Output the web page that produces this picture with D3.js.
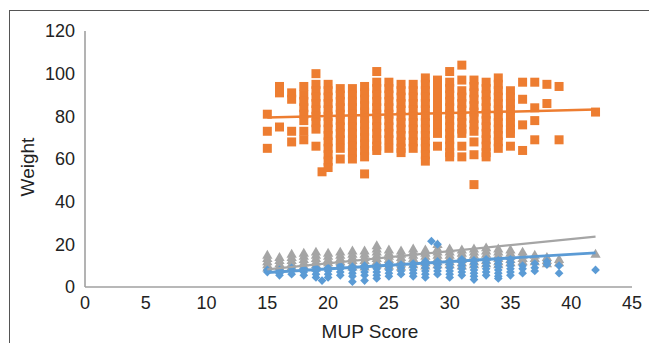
<!DOCTYPE html>
<html>
<head>
<meta charset="utf-8">
<script src="https://cdn.jsdelivr.net/npm/d3@7"></script>
<style>
  body { margin: 0; background: #fff; }
  text { font-family: "Liberation Sans", Arial, sans-serif; fill: #222; }
</style>
</head>
<body>
<svg id="chart" width="649" height="343"></svg>
<script>
// tick labels
const xTicks = [0, 5, 10, 15, 20, 25, 30, 35, 40, 45];
const yTicks = [0, 20, 40, 60, 80, 100, 120];

// orange squares: [MUP score, weights at that score]
const orangeCols = [
  [15, [81, 73, 65]],
  [16, [94, 91, 75]],
  [17, [91, 88, 73, 68]],
  [18, [94, 90, 87, 84, 81, 78, 73, 69]],
  [19, [100, 95, 92, 89, 86, 83, 80, 77, 74, 66]],
  [19.5, [54]],
  [20, [95, 92, 89, 86, 83, 80, 77, 74, 71, 68, 65, 62, 59, 56]],
  [21, [93, 90, 87, 84, 81, 78, 75, 72, 69, 65, 60]],
  [22, [93, 90, 87, 84, 81, 78, 75, 72, 69, 66, 63, 60]],
  [23, [94, 91, 88, 85, 82, 79, 76, 73, 70, 67, 64, 61, 53]],
  [24, [101, 96, 93, 90, 87, 84, 81, 78, 75, 72, 69, 66, 64]],
  [25, [96, 93, 90, 87, 84, 81, 78, 75, 72, 69, 65]],
  [26, [95, 92, 89, 86, 83, 80, 77, 74, 71, 68, 65, 63]],
  [27, [95, 92, 89, 86, 83, 80, 77, 74, 71, 68, 65]],
  [28, [98, 95, 92, 89, 86, 83, 80, 77, 74, 71, 68, 65, 62, 59]],
  [29, [97, 94, 91, 88, 85, 82, 79, 76, 72, 66]],
  [30, [101, 96, 93, 90, 87, 84, 81, 78, 75, 72, 69, 66, 63, 61]],
  [31, [104, 97, 92, 89, 86, 83, 80, 77, 74, 72, 66, 61]],
  [32, [97, 94, 91, 88, 85, 82, 79, 76, 73, 68, 62, 48]],
  [33, [96, 93, 90, 87, 84, 81, 78, 75, 72, 69, 66, 63, 61]],
  [34, [98, 95, 92, 89, 86, 83, 80, 77, 74, 71, 68, 65]],
  [35, [92, 89, 86, 83, 80, 77, 74, 72, 66]],
  [36, [96, 88, 76, 64]],
  [37, [96, 84, 78, 69]],
  [38, [95, 86]],
  [39, [94, 69]],
  [42, [82]]
];

// grey triangles
const greyCols = [
  [15, [15, 13.5, 12, 10.5, 9]],
  [16, [14, 12.5, 11, 9.5]],
  [17, [15.5, 14, 12.5, 11, 9.5]],
  [18, [16, 14.5, 13, 11.5, 10]],
  [19, [16.5, 15, 13.5, 12, 10.5, 9]],
  [20, [16, 14.5, 13, 11.5, 10]],
  [21, [16.5, 15, 13.5, 12, 10.5]],
  [22, [17, 15.5, 14, 12.5, 11, 9.5]],
  [23, [17, 15.5, 14, 12.5, 11, 9.5]],
  [24, [19.5, 18, 16.5, 15, 13.5, 12, 10.5]],
  [25, [17.5, 16, 14.5, 13, 11.5, 10]],
  [26, [17, 15.5, 14, 12.5, 11, 9.5]],
  [27, [18, 16.5, 15, 13.5, 12, 10.5]],
  [28, [17.5, 16, 14.5, 13, 11.5, 10]],
  [29, [20, 18, 16.5, 15, 13.5, 12, 10.5]],
  [30, [18, 16.5, 15, 13.5, 12, 10.5]],
  [31, [17.5, 16, 14.5, 13, 11.5, 10]],
  [32, [18, 16.5, 15, 13.5, 12, 10.5]],
  [33, [18.5, 17, 15.5, 14, 12.5, 11]],
  [34, [18, 16.5, 15, 13.5, 12, 10.5]],
  [35, [17.5, 16, 14.5, 13, 11.5]],
  [36, [16.5, 15, 13.5, 12]],
  [37, [15, 13.5, 12]],
  [38, [14, 12.5, 11]],
  [39, [13, 11.5]],
  [42, [15.5]]
];

// blue diamonds
const blueCols = [
  [15, [8, 7]],
  [16, [8, 6.5, 5.5]],
  [17, [9, 7.5, 6]],
  [18, [8.5, 7, 5.5]],
  [19, [9, 7.5, 6, 4.5]],
  [19.5, [3]],
  [20, [9, 7.5, 6, 4.5]],
  [21, [10, 8.5, 7, 5.5]],
  [22, [9.5, 8, 6.5, 5, 2.5]],
  [23, [10, 8.5, 7, 5.5, 3]],
  [24, [10, 8.5, 7, 5.5, 4]],
  [25, [11, 9.5, 8, 6.5, 5]],
  [26, [10.5, 9, 7.5, 6]],
  [27, [11, 9.5, 8, 6.5, 5]],
  [28, [12, 10.5, 9, 7.5, 6, 4.5]],
  [28.5, [21.5]],
  [29, [20, 12, 10.5, 9, 7.5, 6]],
  [30, [12, 10.5, 9, 7.5, 6, 4.5]],
  [31, [13, 11.5, 10, 8.5, 7, 5.5]],
  [32, [12.5, 11, 9.5, 8, 6.5, 5, 3.5]],
  [33, [13, 11.5, 10, 8.5, 7, 5.5]],
  [34, [12.5, 11, 9.5, 8, 6.5, 5, 4]],
  [35, [13, 11.5, 10, 8.5, 7, 5.5]],
  [36, [10, 8.5, 6.5]],
  [37, [11, 9, 7.5]],
  [38, [12, 10.5]],
  [39, [10, 6.5]],
  [42, [8]]
];

// linear trendlines: [start score, value, end score, value]
const orangeTrend = [15, 79.4, 42, 83.2];
const greyTrend = [15, 8.3, 42, 23.6];
const blueTrend = [15, 6.8, 42, 16];

const flat = cols => cols.flatMap(([s, vals]) => vals.map(v => [s, v]));

const svg = d3.select("#chart");

// chart frame
svg.append("rect")
  .attr("x", 9.5).attr("y", 10.5)
  .attr("width", 700).attr("height", 400)
  .attr("fill", "none").attr("stroke", "#555").attr("stroke-width", 1);

const x = d3.scaleLinear().domain([0, 45]).range([85, 632]);
const y = d3.scaleLinear().domain([0, 120]).range([287, 31]);

// axis lines
svg.append("line")
  .attr("x1", x(0)).attr("x2", x(0)).attr("y1", y(120)).attr("y2", y(0))
  .attr("stroke", "#a0a0a0").attr("stroke-width", 1.6);
svg.append("line")
  .attr("x1", x(0)).attr("x2", x(45)).attr("y1", y(0)).attr("y2", y(0))
  .attr("stroke", "#a0a0a0").attr("stroke-width", 1.6);

svg.append("g").selectAll("text").data(yTicks).join("text")
  .attr("x", 75).attr("y", d => y(d)).attr("dy", "0.35em")
  .attr("text-anchor", "end").attr("font-size", 18)
  .text(d => d);

svg.append("g").selectAll("text").data(xTicks).join("text")
  .attr("x", d => x(d)).attr("y", 303).attr("dy", "0.35em")
  .attr("text-anchor", "middle").attr("font-size", 18)
  .text(d => d);

svg.append("text")
  .attr("x", 370).attr("y", 331).attr("dy", "0.35em")
  .attr("text-anchor", "middle").attr("font-size", 19)
  .text("MUP Score");

svg.append("text")
  .attr("transform", `translate(27,${(y(0) + y(120)) / 2 + 8}) rotate(-90)`)
  .attr("dy", "0.35em")
  .attr("text-anchor", "middle").attr("font-size", 19)
  .text("Weight");

// markers
const orange = "#ed7d31", grey = "#a5a5a5", blue = "#5b9bd5";

svg.append("g").selectAll("path").data(flat(orangeCols)).join("path")
  .attr("d", d3.symbol(d3.symbolSquare, 81))
  .attr("transform", d => `translate(${x(d[0])},${y(d[1])})`)
  .attr("fill", orange);

svg.append("g").selectAll("path").data(flat(greyCols)).join("path")
  .attr("d", d3.symbol(d3.symbolTriangle, 46))
  .attr("transform", d => `translate(${x(d[0])},${y(d[1]) + 0.8})`)
  .attr("fill", grey);

svg.append("g").selectAll("path").data(flat(blueCols)).join("path")
  .attr("d", d3.symbol(d3.symbolSquare, 38))
  .attr("transform", d => `translate(${x(d[0])},${y(d[1])}) rotate(45)`)
  .attr("fill", blue);

// trendlines
[[orangeTrend, orange, 2.5], [greyTrend, grey, 2.2], [blueTrend, blue, 2.8]].forEach(([t, c, w]) => {
  svg.append("line")
    .attr("x1", x(t[0])).attr("y1", y(t[1]))
    .attr("x2", x(t[2])).attr("y2", y(t[3]))
    .attr("stroke", c).attr("stroke-width", w);
});
</script>
</body>
</html>
